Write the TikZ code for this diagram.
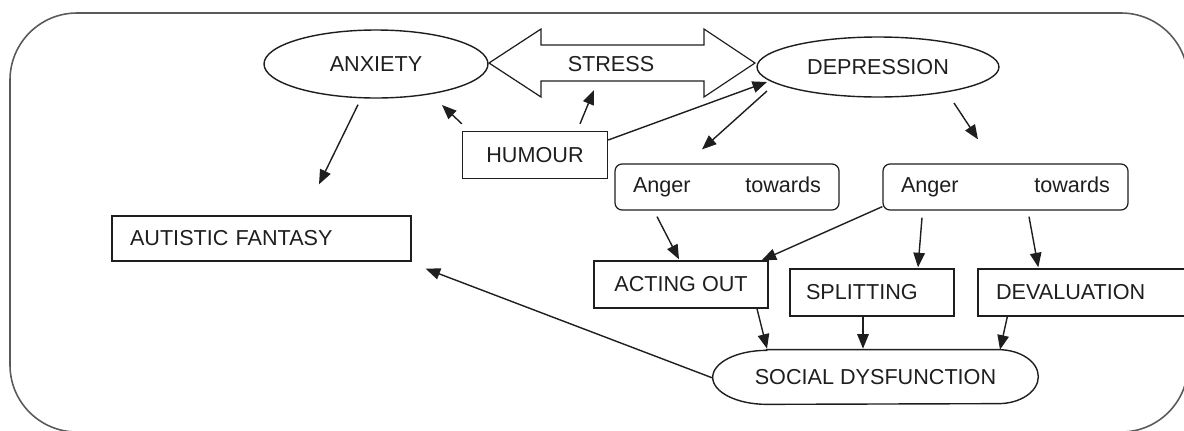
\documentclass[tikz,border=0pt]{standalone}
\usepackage{fontspec}
\setmainfont{Liberation Sans}
\usepackage{xcolor}
\definecolor{framegray}{HTML}{5A5A5A}
\definecolor{inkgray}{HTML}{1E1E1E}
\usetikzlibrary{arrows.meta, calc, shapes.geometric}

\begin{document}
\begin{tikzpicture}[x=0.02cm, y=-0.02cm, inkgray,
    box/.style={draw, line width=0.8pt, minimum height=0.94cm, inner sep=0pt,
                font=\fontsize{12.3}{14}\selectfont},
    leftbox/.style={box, align=left, inner xsep=0.36cm},
    oval/.style={draw, ellipse, line width=0.8pt, inner sep=0pt,
                 font=\fontsize{12.3}{14}\selectfont},
    anger/.style={draw, line width=0.7pt, rounded corners=0.14cm,
                  minimum height=0.92cm, inner xsep=0.36cm, inner ysep=0pt,
                  align=left, font=\fontsize{12.3}{14}\selectfont},
    arr/.style={-{Triangle[length=0.29cm, width=0.23cm]}, line width=0.8pt}
  ]
    \useasboundingbox (0,0) rectangle (1184,430);
    \clip (0,0) rectangle (1184,430);

    % Frame
    \draw[framegray, line width=0.9pt, rounded corners=1.34cm]
      (10,13) rectangle (1188,432);

    % Top row
    \node[oval, minimum width=4.48cm, minimum height=1.36cm] (anx) at (376,64)
      {ANXIETY};
    \node[oval, minimum width=4.84cm, minimum height=1.2cm] (dep) at (878,67)
      {DEPRESSION};
    \draw[line width=0.7pt]
      (489,63) -- (541,29) -- (541,45) -- (704,45) -- (704,29) -- (755,63)
      -- (704,97) -- (704,81) -- (541,81) -- (541,97) -- cycle;
    \node[font=\fontsize{12.3}{14}\selectfont] (stress) at (611,64) {STRESS};

    % Middle
    \node[box, minimum width=2.9cm] (hum) at (535,155) {HUMOUR};
    \node[anger, text width=3.76cm] (ang1) at (727,187) {Anger\hfill towards};
    \node[anger, text width=4.18cm] (ang2) at (1005.5,187) {Anger\hfill towards};
    \node[leftbox, text width=5.26cm, minimum height=0.9cm] (aut) at (261.5,238.5)
      {AUTISTIC FANTASY};

    % Defences
    \node[box, minimum width=3.48cm] (act) at (681,284.5) {ACTING OUT};
    \node[leftbox, text width=2.64cm, inner xsep=0.32cm] (spl) at (872,292.5)
      {SPLITTING};
    \node[leftbox, text width=3.52cm] (dev) at (1084,292.5) {DEVALUATION};

    % Social dysfunction
    \node[minimum width=6.5cm, minimum height=1.08cm, inner sep=0pt,
          font=\fontsize{12.3}{14}\selectfont] (soc) at (875.5,377)
      {SOCIAL DYSFUNCTION};
    \draw[line width=0.8pt]
      ($(soc.north west)+(54,0)$) -- ($(soc.north east)+(-40,0)$)
      arc[start angle=90, end angle=-90, x radius=0.8cm, y radius=0.54cm]
      -- ($(soc.south west)+(54,0)$)
      arc[start angle=270, end angle=90, x radius=1.08cm, y radius=0.54cm]
      -- cycle;

    % Arrows
    \draw[arr] ($(anx.south)+(-18,6)$) -- ($(aut.north)+(57.5,-31)$);
    \draw[arr] ($(hum.north west)+(0,-7)$) -- ($(anx)+(66,41)$);
    \draw[arr] ($(hum.north)+(45,-7)$) -- ($(stress)+(-17,26)$);
    \draw[arr] ($(hum.east)+(0,-15)$) -- ($(dep)+(-111,15)$);
    \draw[arr] ($(dep)+(-111,24)$) -- ($(ang1.north)+(-25,-14)$);
    \draw[arr] ($(dep)+(76,36)$) -- ($(ang2.north)+(-27.5,-24)$);
    \draw[arr] ($(ang1.south)+(-70,6)$) -- ($(act.north)+(-2,-1)$);
    \draw[arr] ($(ang2.south west)+(0,-4)$) -- ($(act.north east)+(-7,0)$);
    \draw[arr] ($(ang2.south)+(-83.5,7)$) -- ($(spl.north)+(46,-1)$);
    \draw[arr] ($(ang2.south)+(23.5,6)$) -- ($(dev.north west)+(61,-1)$);
    \draw[arr] ($(act.south)+(76,0)$) -- ($(soc.north)+(-108.5,-1)$);
    \draw[arr] ($(spl.south)+(-9,0)$) -- ($(soc.north)+(-12.5,-1)$);
    \draw[arr] ($(dev.south west)+(30,0)$) -- ($(soc.north)+(124.5,0)$);
    \draw[arr] ($(soc.west)+(0,1)$) -- ($(aut.south east)+(14,7)$);
  \end{tikzpicture}
\end{document}
